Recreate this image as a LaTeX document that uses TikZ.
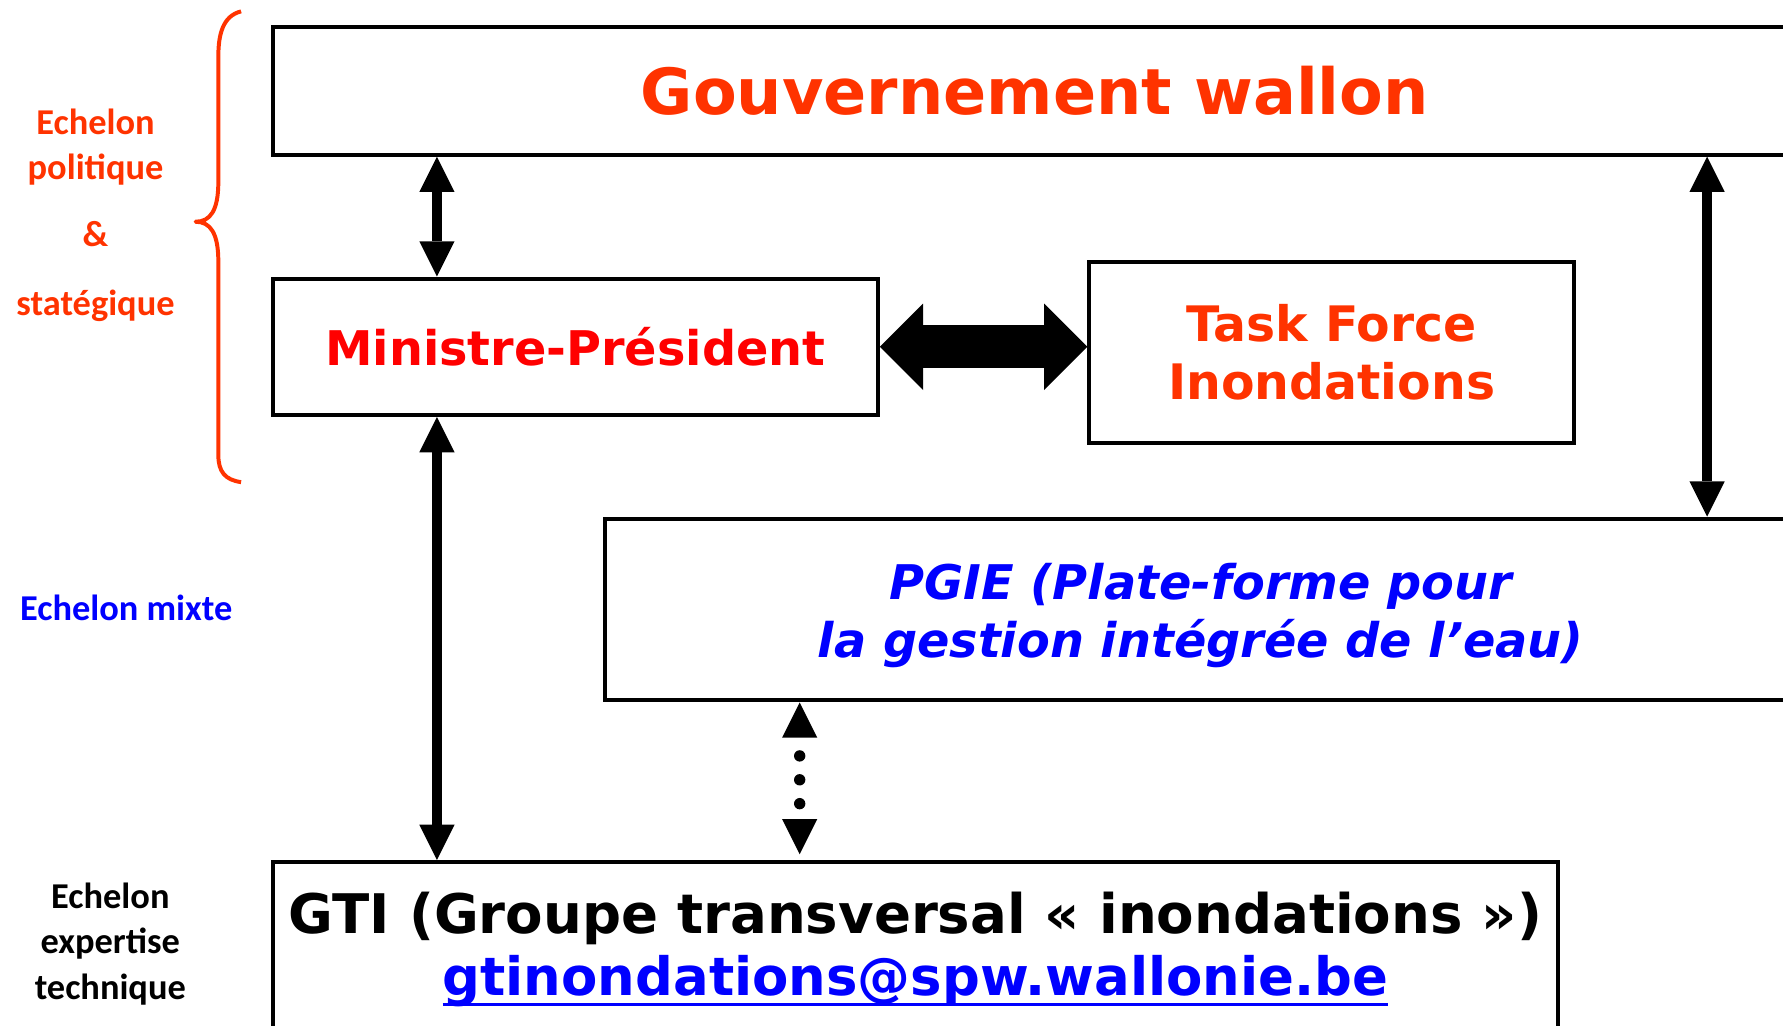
\documentclass[tikz,border=0pt]{standalone}
\usepackage{fontspec}
\setmainfont{DejaVu Sans}
\newfontfamily\sidefont{Carlito}
\usetikzlibrary{arrows.meta}
\definecolor{govred}{HTML}{FF3300}
\definecolor{mpred}{HTML}{FF0000}
\definecolor{pgieblue}{HTML}{0000FF}
\newsavebox\mailbox
\newcommand\mailline[1]{\sbox\mailbox{#1}\rlap{\rule[-9pt]{\wd\mailbox}{3pt}}\usebox\mailbox}

\begin{document}
\begin{tikzpicture}[x=1pt,y=-1pt,
    box/.style={draw,line width=3.5pt,inner sep=0pt,align=center},
    side/.style={align=center,font=\sidefont\bfseries\fontsize{32}{40}\selectfont},
    link/.style={line width=9pt,{Triangle[width=31pt,length=31pt,line width=0pt]}-{Triangle[width=31pt,length=31pt,line width=0pt]}}]

    \clip (0,0) rectangle (1568,902);

    % boxes
    \node[box,minimum width=1340pt,minimum height=112pt,text=govred,font=\bfseries\fontsize{56}{67}\selectfont] (gouv) at (910,80) {Gouvernement wallon};
    \node[box,minimum width=532pt,minimum height=120pt,text=mpred,font=\bfseries\fontsize{42}{51}\selectfont] (mp) at (506,305) {Ministre-Président};
    \node[box,minimum width=426pt,minimum height=160pt,text=govred,font=\bfseries\fontsize{43}{51}\selectfont] (tf) at (1171,310) {Task Force\\Inondations};
    \node[box,minimum width=1048pt,minimum height=160pt,
        label={[yshift=-5pt,align=center,text=pgieblue,font=\bfseries\itshape\fontsize{42}{51}\selectfont]center:PGIE (Plate-forme pour\\la gestion intégrée de l’eau)}] (pgie) at (1056,536) {};
    \node[box,minimum width=1130pt,minimum height=154pt,font=\bfseries\fontsize{48}{55}\selectfont] (gti) at (805,835) {GTI (Groupe transversal « inondations »)\\{\color{pgieblue}\fontsize{46.5}{55}\selectfont\mailline{gtinondations@spw.wallonie.be}}};

    % echelons
    \node[side,text=govred] (polit) at (84,189) {Echelon\\politique\\[19pt]\&\\[20pt]statégique};
    \node[side,text=pgieblue] (mixte) at (111,535) {Echelon mixte};
    \node[side] (tech) at (97,830) {Echelon\\expertise\\technique};

    \draw[govred,line width=3.5pt,line join=round] (212,10) .. controls (196,14) and (192,30) .. (192,50) -- (192,160)
        .. controls (192,185) and (185,195) .. (172,195) .. controls (185,195) and (192,205) .. (192,230)
        -- (192,400) .. controls (192,415) and (198,422) .. (212,424);

    % liens
    \draw[link] ([xshift=146pt]gouv.south west) -- ([xshift=146pt]mp.north west);
    \draw[link] ([xshift=146pt]mp.south west) -- ([xshift=146pt]gti.north west);
    \draw[link] ([xshift=1263pt]gouv.south west) -- ([xshift=971pt]pgie.north west);
    \draw[link,line width=10pt,line cap=round,dash pattern=on 0pt off 21pt,dash phase=5pt,shorten >=5pt]
        ([xshift=173pt]pgie.south west) -- ([xshift=465pt]gti.north west);
    \draw[line width=38pt,{Triangle[width=76pt,length=38pt,line width=0pt]}-{Triangle[width=76pt,length=38pt,line width=0pt]}]
        (mp.east) -- (mp.east -| tf.west);
\end{tikzpicture}
\end{document}
